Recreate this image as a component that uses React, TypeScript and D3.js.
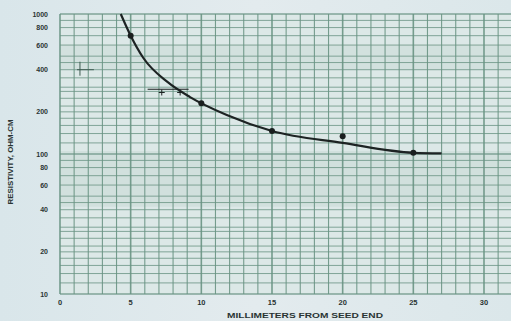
import React from "react";
import * as d3 from "d3";

const xTicks = [0, 5, 10, 15, 20, 25, 30];
const yTickLabels = [1000, 800, 600, 400, 200, 100, 80, 60, 40, 20, 10];
const curveMm = [4.3, 5.0, 5.9, 7.6, 9.2, 11.8, 15, 20, 25, 27];
const curveOhm = [1000, 700, 485, 327, 255, 190, 146, 120, 102, 101];
const pointMm = [5, 10, 15, 20, 25];
const pointOhm = [700, 230, 146, 134, 102];
const bracketMm = [6.2, 9.1];
const bracketOhm = 290;
const crossMm = [7.2, 8.5];
const crossOhm = 275;
const leftMarkMm = [1.2, 2.4];
const leftMarkOhm = 400;
const minorMult = [1, 1.2, 1.4, 1.6, 1.8, 2, 2.2, 2.5, 2.8, 3, 3.5, 4, 4.5, 5, 6, 7, 8, 9];

const W = 511, H = 321;

export default function App() {
  const x = d3.scaleLinear().domain([0, 30]).range([60, 484]);
  const y = d3.scaleLog().domain([10, 1000]).range([294, 14]);
  const xMax = x.invert(511);
  const vLines = d3.range(0, Math.floor(xMax) + 1, 1);
  const hLines: number[] = [];
  [10, 100].forEach((d) => minorMult.forEach((m) => hLines.push(d * m)));
  hLines.push(1000);

  const line = d3
    .line<number>()
    .x((_, i) => x(curveMm[i]))
    .y((_, i) => y(curveOhm[i]))
    .curve(d3.curveMonotoneX);
  const gridColor = "#6a9484";
  const font = "'Liberation Sans', Arial, sans-serif";

  return (
    <svg width={W} height={H} style={{ position: "absolute", left: 0, top: 0 }}>
      <defs>
        <linearGradient id="bg" x1="0" y1="0" x2="1" y2="0">
          <stop offset="0" stopColor="#d9e6ea" />
          <stop offset="0.5" stopColor="#e3ebee" />
          <stop offset="1" stopColor="#dbe7ea" />
        </linearGradient>
      </defs>
      <rect width={W} height={H} fill="url(#bg)" />
      <rect x={60} y={14} width={511 - 60} height={294 - 14} fill="#dce8e7" />
      {/* scan bands */}
      <rect x={60} y={y(100) - 3} width={451} height={y(40) - y(100)} fill="#a7c4ba" opacity={0.2} />
      <rect x={60} y={y(600)} width={451} height={y(400) - y(600)} fill="#a9c7bc" opacity={0.2} />
      {vLines.map((v) => (
        <line
          key={"v" + v}
          x1={x(v)}
          x2={x(v)}
          y1={14}
          y2={294}
          stroke={gridColor}
          strokeWidth={v % 5 === 0 ? 1.6 : 1.1}
          opacity={0.9}
        />
      ))}
      {hLines.map((h) => (
        <line
          key={"h" + h}
          x1={60}
          x2={511}
          y1={y(h)}
          y2={y(h)}
          stroke={gridColor}
          strokeWidth={h === 10 || h === 100 || h === 1000 ? 1.6 : 1}
          opacity={0.8}
        />
      ))}
      {/* annotation marks */}
      <line x1={x(bracketMm[0])} x2={x(bracketMm[1])} y1={y(bracketOhm)} y2={y(bracketOhm)} stroke="#1c2222" strokeWidth={1.2} />
      {crossMm.map((m) => (
        <g key={"c" + m} stroke="#1c2222" strokeWidth={1}>
          <line x1={x(m) - 3} x2={x(m) + 3} y1={y(crossOhm)} y2={y(crossOhm)} />
          <line x1={x(m)} x2={x(m)} y1={y(crossOhm) - 3} y2={y(crossOhm) + 3} />
        </g>
      ))}
      <g stroke="#3d5a50" strokeWidth={1}>
        <line x1={x(leftMarkMm[0])} x2={x(leftMarkMm[1])} y1={y(leftMarkOhm)} y2={y(leftMarkOhm)} />
        <line x1={x(leftMarkMm[0]) + 3} x2={x(leftMarkMm[0]) + 3} y1={y(leftMarkOhm) - 8} y2={y(leftMarkOhm) + 6} />
      </g>
      {/* curve */}
      <path d={line(curveMm) || ""} fill="none" stroke="#1d2323" strokeWidth={2.2} />
      {pointMm.map((m, i) => (
        <circle key={"p" + m} cx={x(m)} cy={y(pointOhm[i])} r={3} fill="#1a1f1f" />
      ))}
      {/* x tick labels */}
      {xTicks.map((t) => (
        <text key={"xt" + t} x={x(t)} y={305} textAnchor="middle" fontFamily={font} fontWeight="bold" fontSize={7.5} fill="#2a3433">
          {t}
        </text>
      ))}
      {yTickLabels.map((t) => (
        <text key={"yt" + t} x={48} y={y(t) + 2.5} textAnchor="end" fontFamily={font} fontWeight="bold" fontSize={7} fill="#2a3433">
          {t}
        </text>
      ))}
      <text
        x={305}
        y={318}
        textAnchor="middle"
        fontFamily={font}
        fontWeight="bold"
        fontSize={7}
        fill="#2a3433"
        textLength={156}
        lengthAdjust="spacingAndGlyphs"
      >
        MILLIMETERS FROM SEED END
      </text>
      <text
        transform={`translate(13,162) rotate(-90)`}
        textAnchor="middle"
        fontFamily={font}
        fontWeight="bold"
        fontSize={7}
        fill="#2a3433"
        textLength={85}
        lengthAdjust="spacingAndGlyphs"
      >
        RESISTIVITY, OHM-CM
      </text>
    </svg>
  );
}
